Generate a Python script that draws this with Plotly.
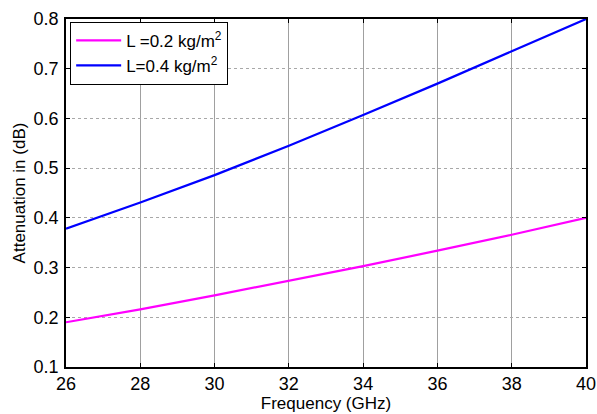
import plotly.graph_objects as go

freq = [26, 28, 30, 32, 34, 36, 38, 40]
att_02 = [0.190, 0.216, 0.244, 0.273, 0.303, 0.334, 0.366, 0.400]
att_04 = [0.378, 0.431, 0.486, 0.545, 0.607, 0.670, 0.735, 0.800]
x_ticks = [26, 28, 30, 32, 34, 36, 38, 40]
y_ticks = [0.1, 0.2, 0.3, 0.4, 0.5, 0.6, 0.7, 0.8]

FONT = "Liberation Sans, Arial"

fig = go.Figure()
fig.add_trace(go.Scatter(x=freq, y=att_02, mode="lines", name="L =0.2 kg/m<sup>2</sup>",
                         line=dict(color="#FF00FF", width=2.2)))
fig.add_trace(go.Scatter(x=freq, y=att_04, mode="lines", name="L=0.4 kg/m<sup>2</sup>",
                         line=dict(color="#0000FF", width=2.2)))

axis_common = dict(showline=True, linecolor="black", linewidth=1.5, mirror="ticks",
                   ticks="inside", ticklen=4, tickcolor="black", automargin=False,
                   showgrid=True, gridwidth=1, zeroline=False,
                   tickfont=dict(family=FONT, size=18, color="black"))

fig.update_xaxes(range=[26, 40], tickvals=x_ticks, ticktext=[str(v) for v in x_ticks],
                 gridcolor="#a0a0a0", griddash="solid", ticklabelstandoff=0,
                 title=dict(text="Frequency (GHz)", font=dict(family=FONT, size=17, color="black"), standoff=4),
                 **axis_common)
fig.update_yaxes(range=[0.1, 0.8], tickvals=y_ticks, ticktext=[f"{v:.1f}" for v in y_ticks],
                 gridcolor="#a8a8a8", griddash="dot", ticklabelstandoff=2,
                 title=dict(text="Attenuation in (dB)", font=dict(family=FONT, size=17, color="black"), standoff=4),
                 **axis_common)

fig.update_layout(
    width=597, height=414,
    margin=dict(l=66, r=11, t=19, b=47),
    plot_bgcolor="white", paper_bgcolor="white",
    font=dict(family=FONT, color="black"),
    legend=dict(x=0.008, y=0.992, xanchor="left", yanchor="top",
                bgcolor="white", bordercolor="black", borderwidth=1,
                font=dict(family=FONT, size=17, color="black"),
                tracegroupgap=4, itemwidth=45),
    showlegend=True,
)

fig.write_html("out.html")
